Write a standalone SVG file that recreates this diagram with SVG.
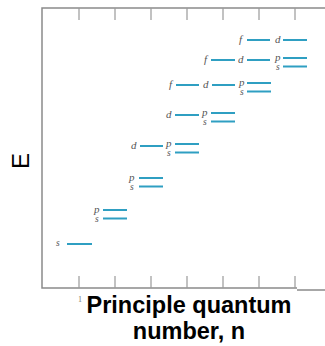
<svg xmlns="http://www.w3.org/2000/svg" width="325" height="346" viewBox="0 0 325 346">
<style>
.ax{stroke:#8a8a8a;stroke-width:1.5;fill:none}
.tk{stroke:#9a9a9a;stroke-width:1.2}
.lv{stroke:#2f9fc2;stroke-width:2}
.lb{font-family:"Liberation Serif",serif;font-style:italic;font-size:11px;fill:#555}
.lbs{font-family:"Liberation Serif",serif;font-style:italic;font-size:9.5px;fill:#555}
.tt{font-family:"Liberation Sans",Arial,sans-serif;font-weight:bold;font-size:23.5px;fill:#000;text-anchor:middle}
</style>
<rect width="325" height="346" fill="#fff"/>
<g id="axes">
<path class="ax" d="M325 8 H42 V288 H297"/>
<path class="ax" d="M297 290 H325"/>
<g class="tk">
<path d="M79 8V20M115 8V20M151 8V20M187 8V20M223 8V20M259 8V20M295 8V20"/>
<path d="M79 288V276M115 288V276M151 288V276M187 288V276M223 288V276M259 288V276M295 288V276"/>
</g>
<text x="78" y="302" font-family="Liberation Serif,serif" font-size="8" fill="#777">1</text>
</g>
<g id="e-label"><text transform="translate(29,161) rotate(-90)" text-anchor="middle" font-family="Liberation Sans,Arial,sans-serif" font-size="24" fill="#000">E</text></g>
<g id="row1"><text class="lbs" x="56" y="246">s</text><line class="lv" x1="67" y1="244" x2="92" y2="244"/></g>
<g id="row2"><text class="lb" x="94" y="213">p</text><text class="lbs" x="95" y="222">s</text><line class="lv" x1="103" y1="210" x2="127" y2="210"/><line class="lv" x1="103" y1="218.5" x2="127" y2="218.5"/></g>
<g id="row3"><text class="lb" x="129" y="181">p</text><text class="lbs" x="130" y="190">s</text><line class="lv" x1="139" y1="178" x2="163" y2="178"/><line class="lv" x1="139" y1="186.5" x2="163" y2="186.5"/></g>
<g id="row4"><text class="lb" x="131" y="149">d</text><line class="lv" x1="140" y1="146" x2="163" y2="146"/><text class="lb" x="166" y="147">p</text><text class="lbs" x="167" y="156">s</text><line class="lv" x1="175" y1="144" x2="199" y2="144"/><line class="lv" x1="175" y1="152.5" x2="199" y2="152.5"/></g>
<g id="row5"><text class="lb" x="166" y="118">d</text><line class="lv" x1="175" y1="115" x2="199" y2="115"/><text class="lb" x="202" y="116">p</text><text class="lbs" x="203" y="125">s</text><line class="lv" x1="211" y1="113" x2="235" y2="113"/><line class="lv" x1="211" y1="121.5" x2="235" y2="121.5"/></g>
<g id="row6"><text class="lb" x="169" y="88">f</text><line class="lv" x1="176" y1="85" x2="199" y2="85"/><text class="lb" x="203" y="88">d</text><line class="lv" x1="212" y1="85" x2="235" y2="85"/><text class="lb" x="239" y="86">p</text><text class="lbs" x="240" y="95">s</text><line class="lv" x1="247" y1="83" x2="271" y2="83"/><line class="lv" x1="247" y1="91.5" x2="271" y2="91.5"/></g>
<g id="row7"><text class="lb" x="204" y="63">f</text><line class="lv" x1="211" y1="60" x2="235" y2="60"/><text class="lb" x="238" y="63">d</text><line class="lv" x1="247" y1="60" x2="270" y2="60"/><text class="lb" x="275" y="61">p</text><text class="lbs" x="276" y="70">s</text><line class="lv" x1="283" y1="58" x2="307" y2="58"/><line class="lv" x1="283" y1="66.5" x2="307" y2="66.5"/></g>
<g id="row8"><text class="lb" x="239" y="43">f</text><line class="lv" x1="247" y1="40" x2="270" y2="40"/><text class="lb" x="275" y="43">d</text><line class="lv" x1="283" y1="40" x2="307" y2="40"/></g>
<g id="title"><text class="tt" x="189" y="313">Principle quantum</text><text class="tt" x="189" y="339">number, n</text></g>
</svg>
